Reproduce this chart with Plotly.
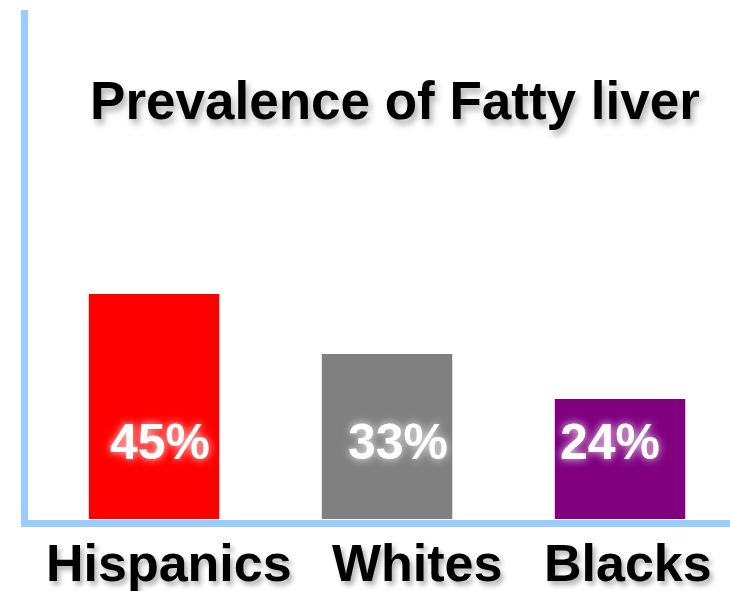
import plotly.graph_objects as go

categories = ["Hispanics", "Whites", "Blacks"]
values = [45, 33, 24]
bar_colors = ["#ff0000", "#808080", "#800080"]

FONT = "Liberation Sans, Arial, sans-serif"

fig = go.Figure()
fig.add_trace(go.Bar(
    x=list(range(len(categories))), y=values,
    marker=dict(color=bar_colors, line=dict(width=0)),
    width=0.56, hoverinfo="skip",
))

label_xshift = [15, 30, 8]
value_xshift = [6, 11, -10]

annotations = []
for i, (c, v) in enumerate(zip(categories, values)):
    annotations.append(dict(
        x=i, y=0, xref="x", yref="y", text=f"<b>{c}</b>", showarrow=False,
        yanchor="middle", xanchor="center", yshift=-44, xshift=label_xshift[i],
        font=dict(family=FONT, size=52, color="black",
                  shadow="3px 4px 5px rgba(0,0,0,0.3)"),
    ))
    annotations.append(dict(
        x=i, y=15.5, xref="x", yref="y", text=f"<b>{v}%</b>", showarrow=False,
        yanchor="middle", xanchor="center", xshift=value_xshift[i],
        font=dict(family=FONT, size=50, color="white",
                  shadow="0px 0px 8px rgba(255,255,255,0.9)"),
    ))

fig.update_layout(
    width=730, height=591,
    margin=dict(l=28, r=0, t=10, b=71),
    paper_bgcolor="white", plot_bgcolor="white",
    showlegend=False,
    title=dict(
        text="<b>Prevalence of Fatty liver</b>",
        x=0.541, xanchor="center", xref="container",
        y=1 - 100 / 591, yanchor="middle", yref="container",
        font=dict(family=FONT, size=53, color="black",
                  shadow="3px 5px 6px rgba(0,0,0,0.3)"),
    ),
    xaxis=dict(range=[-0.541, 2.472], showticklabels=False, ticks="",
               showgrid=False, zeroline=False, showline=True,
               linecolor="#99ccff", linewidth=7),
    yaxis=dict(range=[-0.2, 101.8], showticklabels=False, ticks="",
               showgrid=False, zeroline=False, showline=True,
               linecolor="#99ccff", linewidth=7),
    annotations=annotations,
)

fig.write_html("out.html")
